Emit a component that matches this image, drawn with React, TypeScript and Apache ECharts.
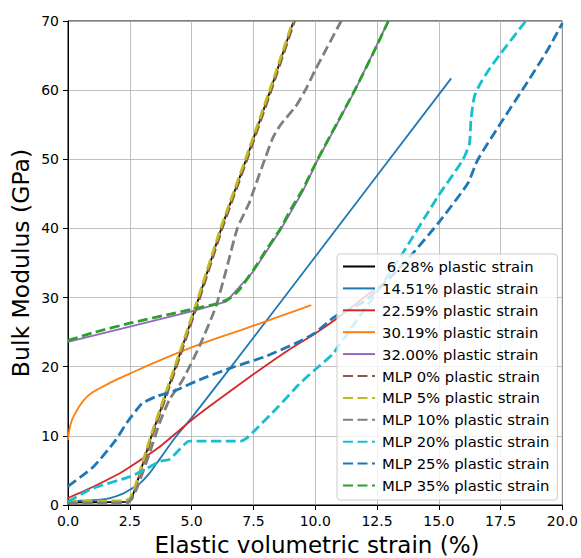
import React, { useEffect, useRef } from "react";
import * as echarts from "echarts";

// x: elastic volumetric strain (%), y: bulk modulus (GPa)
const black628: number[][] = [[0,0.4],[1,0.4],[2.4,0.45],[2.55,0.7],[2.7,2.2],[3.38,10],[4.35,20],[5.3,30],[6.2,40],[7.21,50],[8.19,60],[9.13,70]];
const blue1451: number[][] = [[0,0.6],[1,0.7],[1.7,1.0],[2.2,1.6],[2.5,2.2],[2.9,3.1],[3.3,4.6],[3.7,6.6],[4.37,9.9],[5,12.6],[7.5,24.2],[10,35.9],[15.5,61.7]];
const red2259: number[][] = [[0,1.0],[1,2.6],[2,4.4],[2.5,5.5],[3.7,8.4],[4.5,10.8],[5,12.3],[6,15.0],[7.5,18.9],[9,22.6],[10,24.8],[11,27.3],[12.4,31.2]];
const orange3019: number[][] = [[0,9.4],[0.05,10.8],[0.15,12.2],[0.3,13.3],[0.5,14.5],[0.75,15.6],[1.0,16.3],[1.4,17.1],[2.0,18.2],[2.5,19.0],[3.5,20.6],[5,22.8],[6,24.1],[7,25.3],[8.5,27.2],[9.84,28.9]];
const purple3200: number[][] = [[0,23.6],[2.5,25.8],[5,28.0],[6.4,29.4],[6.7,30.6],[7.5,33.8],[8.6,39.8],[9.5,45.4],[10.1,49.9],[11.6,59.9],[12.96,70]];
const mlp0: number[][] = [[0,0.3],[2.45,0.4],[2.6,1.0],[2.75,2.5],[3.4,10],[4.38,20],[5.33,30],[6.23,40],[7.24,50],[8.22,60],[9.16,70]];
const mlp5: number[][] = [[0,0.5],[2.3,0.6],[2.5,0.9],[2.7,2.5],[3.35,10],[4.32,20],[5.27,30],[6.17,40],[7.18,50],[8.16,60],[9.1,70]];
const mlp10: number[][] = [[0,0.3],[1,0.3],[2.3,0.35],[2.5,0.6],[2.76,2.2],[3.3,7.5],[3.7,11.8],[4.1,15.2],[4.64,18.1],[5.31,22.9],[5.98,28.7],[6.4,34],[6.85,40],[7.32,43.6],[7.52,45.6],[8.0,50.4],[8.3,53.2],[8.6,55],[9.2,57.6],[9.6,60],[10.0,62.9],[11.05,70]];
const mlp20: number[][] = [[0,0.5],[0.3,1.1],[1,2.4],[2.5,4.1],[3.2,5.3],[3.7,6.3],[4.1,6.6],[4.5,8.0],[4.85,9.2],[5,9.25],[7.0,9.25],[7.2,9.6],[7.45,10.4],[8.5,14.2],[9.33,17.4],[10,19.6],[10.7,21.8],[11.6,26.3],[12.55,31.1],[13.5,36.2],[14.96,44.6],[15.97,49.9],[16.24,52.3],[16.3,55.7],[16.44,59.1],[16.64,60.7],[16.98,62.7],[17.5,65.3],[18.5,69.9]];
const mlp25: number[][] = [[0,2.7],[1.02,5.5],[1.89,9.2],[2.4,12],[2.76,13.7],[3.0,14.7],[3.57,15.7],[4.37,16.6],[5.31,18.1],[6.65,19.9],[8.0,21.5],[9.33,23.6],[10,24.9],[10.74,27.1],[12,29.5],[13,32.8],[13.9,36.2],[14.96,40.7],[16.17,46.5],[16.57,49.9],[17.5,55.2],[18.5,60.7],[19.4,65.8],[20,69.7]];
const mlp35: number[][] = [[0,23.8],[1,24.9],[2.5,26.3],[4,27.5],[5,28.3],[6,29.1],[6.5,29.8],[6.9,31.0],[7.5,34],[8.0,36.8],[8.6,40],[9.0,42.7],[9.49,45.6],[10.1,50],[10.85,55],[11.6,60],[12.3,65],[12.96,70]];

const seriesNames = [
  " 6.28% plastic strain",
  "14.51% plastic strain",
  "22.59% plastic strain",
  "30.19% plastic strain",
  "32.00% plastic strain",
  "MLP 0% plastic strain",
  "MLP 5% plastic strain",
  "MLP 10% plastic strain",
  "MLP 20% plastic strain",
  "MLP 25% plastic strain",
  "MLP 35% plastic strain",
];
const seriesData = [black628, blue1451, red2259, orange3019, purple3200, mlp0, mlp5, mlp10, mlp20, mlp25, mlp35];
const seriesColors = ["#000000", "#1f77b4", "#d62728", "#ff7f0e", "#9467bd", "#8c564b", "#bcbd22", "#7f7f7f", "#17becf", "#1f77b4", "#2ca02c"];
const seriesDashed = [false, false, false, false, false, true, true, true, true, true, true];
const seriesSmooth = [false, 0.3, 0.15, 0.4, false, false, false, 0.2, 0.2, 0.2, 0.2];

const FONT = "DejaVu Sans";

export default function App() {
  const ref = useRef<HTMLDivElement>(null);
  useEffect(() => {
    if (!ref.current) return;
    const chart = echarts.init(ref.current, undefined, { renderer: "svg" });
    const series = seriesData.map((d, i) => ({
      name: seriesNames[i],
      type: "line",
      data: d,
      showSymbol: false,
      symbol: "none",
      smooth: seriesSmooth[i],
      clip: true,
      z: 2 + i * 0.01,
      lineStyle: {
        color: seriesColors[i],
        width: seriesDashed[i] ? 2.8 : 1.8,
        type: seriesDashed[i] ? [10, 4.5] : "solid",
      },
      itemStyle: { color: seriesColors[i] },
      emphasis: { disabled: true },
    }));
    chart.setOption({
      animation: false,
      backgroundColor: "#ffffff",
      grid: { left: 68, right: 16, top: 21, bottom: 53, show: true, borderColor: "#000", borderWidth: 1, backgroundColor: "transparent" },
      xAxis: {
        type: "value",
        min: 0,
        max: 20,
        interval: 2.5,
        axisLine: { show: true, onZero: false, lineStyle: { color: "#000", width: 1 } },
        axisTick: { show: true, inside: false, length: 5, lineStyle: { color: "#000" } },
        axisLabel: { margin: 9, color: "#000", fontSize: 14, fontFamily: FONT, formatter: (v: number) => v.toFixed(1), showMaxLabel: true, showMinLabel: true, hideOverlap: false },
        splitLine: { show: true, lineStyle: { color: "#b0b0b0", width: 0.8 } },
      },
      yAxis: {
        type: "value",
        min: 0,
        max: 70,
        interval: 10,
        axisLine: { show: true, onZero: false, lineStyle: { color: "#000", width: 1 } },
        axisTick: { show: true, inside: false, length: 5, lineStyle: { color: "#000" } },
        axisLabel: { margin: 9, color: "#000", fontSize: 14, fontFamily: FONT },
        splitLine: { show: true, lineStyle: { color: "#b0b0b0", width: 0.8 } },
      },
      legend: {
        show: true,
        orient: "vertical",
        left: 337,
        top: 254,
        padding: [5, 8, 7, 5],
        itemWidth: 32,
        itemHeight: 14,
        itemGap: 6.9,
        itemStyle: { opacity: 0 },
        backgroundColor: "rgba(255,255,255,0.8)",
        borderColor: "#cccccc",
        borderWidth: 1,
        borderRadius: 3,
        selectedMode: false,
        textStyle: { fontSize: 14.8, fontFamily: FONT, color: "#000", lineHeight: 14, padding: [0, 0, 0, 2] },
        data: seriesNames,
      },
      graphic: [
        {
          type: "text",
          x: 317,
          y: 545,
          style: { text: "Elastic volumetric strain (%)", fontSize: 23, fontFamily: FONT, fill: "#000", textAlign: "center", textVerticalAlign: "middle" },
        },
        {
          type: "text",
          x: 20.5,
          y: 263,
          rotation: Math.PI / 2,
          style: { text: "Bulk Modulus (GPa)", fontSize: 23.5, fontFamily: FONT, fill: "#000", textAlign: "center", textVerticalAlign: "middle" },
        },
      ],
      series,
    });
    return () => chart.dispose();
  }, []);
  return <div ref={ref} style={{ position: "fixed", left: 0, top: 0, width: 581, height: 558 }} />;
}
